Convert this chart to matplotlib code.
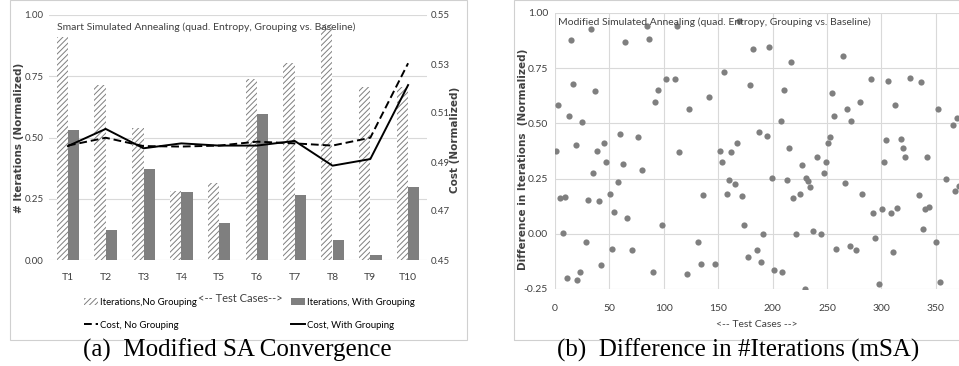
import matplotlib
matplotlib.use("Agg")
import matplotlib.pyplot as plt
from matplotlib.patches import Patch, Rectangle
from matplotlib.lines import Line2D
import numpy as np

narrow = ['Lato', 'DejaVu Sans']
grey = '#7f7f7f'
gridc = '#d9d9d9'
txtc = '#404040'
plt.rcParams['hatch.linewidth'] = 0.7

# ---- (a) data ----
cases = ['T1', 'T2', 'T3', 'T4', 'T5', 'T6', 'T7', 'T8', 'T9', 'T10']
iter_no_group = [0.91, 0.713, 0.537, 0.28, 0.314, 0.738, 0.803, 0.965, 0.705, 0.705]
iter_group = [0.529, 0.123, 0.373, 0.277, 0.150, 0.594, 0.265, 0.082, 0.019, 0.298]
cost_no_group = [0.4967, 0.4999, 0.4965, 0.4963, 0.4967, 0.4983, 0.4976, 0.4967, 0.4999, 0.5303]
cost_group = [0.4965, 0.5035, 0.4956, 0.4976, 0.4967, 0.4967, 0.4986, 0.4885, 0.4912, 0.5214]

# ---- (b) data ----
test_x = [0.9, 3, 13, 14.7, 17, 19, 24.8, 33, 35, 36.8, 38.6, 44.7, 46.9, 60, 58.2,
          62.5, 64.4, 76.6, 80.3, 84.3, 86.4, 92.3, 94.4, 101.8, 110.3, 111.9, 114,
          123.5, 141.9, 151.4, 153.5, 155.7, 159.7, 161.8, 167.3, 169.5, 179.6, 181.8,
          187.3, 195.2, 197.1, 199.2, 207.5, 210.9, 213.3, 215.2, 217, 227.1, 230.8,
          240.9, 247, 248.9, 251, 252.6, 254.4, 256.5, 264.8, 268.8, 272.2, 280.4,
          290.9, 302.5, 304.3, 306.5, 312.3, 317.8, 320, 322.1, 326.4, 336.5, 342,
          352.2, 359.8, 365.6, 369.6,
          4.9, 9.2, 7, 11, 20.5, 22.7, 28.8, 30.6, 40.5, 42.6, 50.6, 52.7, 54.6, 66.2,
          70.5, 90.1, 98.4, 121.7, 131.8, 133.9, 135.8, 147.4, 157.8, 165.5, 171.6,
          173.5, 177.5, 185.4, 189.4, 191.3, 201.4, 209, 219.1, 221.3, 225.3, 233,
          234.8, 229.6, 237, 244.9, 258.7, 266.6, 270.9, 276.5, 282.6, 292.7, 294.5,
          298.2, 300.4, 308.6, 310.5, 314.5, 334.4, 338.1, 339.9, 343.9, 350, 354.3,
          367.8, 371.5]
diff_iter = [0.377, 0.582, 0.533, 0.876, 0.680, 0.403, 0.508, 0.929, 0.277, 0.647,
             0.374, 0.409, 0.324, 0.453, 0.235, 0.315, 0.870, 0.438, 0.291, 0.939,
             0.883, 0.595, 0.652, 0.702, 0.702, 0.942, 0.371, 0.564, 0.618, 0.377,
             0.323, 0.732, 0.242, 0.371, 0.409, 0.962, 0.673, 0.835, 0.459, 0.445,
             0.848, 0.253, 0.509, 0.652, 0.242, 0.389, 0.777, 0.312, 0.253, 0.350,
             0.277, 0.326, 0.412, 0.438, 0.638, 0.533, 0.803, 0.567, 0.512, 0.595,
             0.702, 0.326, 0.424, 0.692, 0.585, 0.429, 0.389, 0.350, 0.705, 0.689,
             0.347, 0.567, 0.250, 0.491, 0.526,
             0.164, 0.167, 0.005, -0.198, -0.211, -0.174, -0.036, 0.153, 0.148, -0.142,
             0.180, -0.071, 0.097, 0.071, -0.074, -0.173, 0.042, -0.183, -0.039, -0.138,
             0.174, -0.135, 0.180, 0.224, 0.171, 0.042, -0.106, -0.074, -0.126, 0.0,
             -0.165, -0.173, 0.164, -0.003, 0.180, 0.238, 0.214, -0.25, 0.014, 0.0,
             -0.071, 0.232, -0.055, -0.074, 0.180, 0.094, -0.018, -0.226, 0.111, 0.094,
             -0.082, 0.117, 0.177, 0.020, 0.114, 0.121, -0.039, -0.217, 0.192, 0.218]

W, H = 959, 366
fig = plt.figure(figsize=(W / 100, H / 100), dpi=100)


def box(l, t, r, b):
    return [l / W, 1 - b / H, (r - l) / W, (b - t) / H]


# chart borders
fig.patches.append(Rectangle((10 / W, 1 - 340 / H), 457 / W, 340 / H, transform=fig.transFigure,
                             fill=False, edgecolor='#d0d0d0', lw=0.8))
fig.patches.append(Rectangle((514 / W, 1 - 340 / H), 450 / W, 340 / H, transform=fig.transFigure,
                             fill=False, edgecolor='#d0d0d0', lw=0.8))

# ---------------- (a) ----------------
ax = fig.add_axes(box(49, 15, 427, 260))
x = np.arange(len(cases))
ax.bar(x - 0.15, iter_no_group, 0.3, color='white', edgecolor=grey, hatch='//////', lw=0)
ax.bar(x + 0.15, iter_group, 0.3, color=grey, lw=0)
ax.set_ylim(0, 1)
ax.set_xlim(-0.5, len(cases) - 0.5)
ax.set_yticks([0, 0.25, 0.5, 0.75, 1.0])
ax.set_yticklabels(['0.00', '0.25', '0.50', '0.75', '1.00'])
ax.set_xticks(x)
ax.set_xticklabels(cases)
ax.grid(axis='y', color=gridc, lw=0.8)
ax.set_axisbelow(True)
for s in ax.spines.values():
    s.set_visible(False)
ax.tick_params(length=0, labelsize=7.5, colors=txtc)
ax.tick_params(axis='x', pad=9)
ax.tick_params(axis='y', pad=4, labelsize=7)
for lab in ax.get_xticklabels() + ax.get_yticklabels():
    lab.set_family(narrow)
ax.set_ylabel('# Iterations (Normalized)', fontsize=7.5, fontweight='bold', color=txtc)
ax.yaxis.set_label_coords(-0.066, 0.5)
ax.text(0.02, 0.97, 'Smart Simulated Annealing (quad. Entropy, Grouping vs. Baseline)',
        transform=ax.transAxes, va='top', ha='left', fontsize=7.5, family=narrow, color=txtc)

ax2 = ax.twinx()
ax2.plot(x, cost_no_group, color='black', lw=1.4, ls=(0, (4, 2)))
ax2.plot(x, cost_group, color='black', lw=1.4)
ax2.set_ylim(0.45, 0.55)
ax2.set_yticks([0.45, 0.47, 0.49, 0.51, 0.53, 0.55])
ax2.set_yticklabels(['0.45', '0.47', '0.49', '0.51', '0.53', '0.55'])
for s in ax2.spines.values():
    s.set_visible(False)
ax2.tick_params(length=0, labelsize=7, colors=txtc, pad=3)
for lab in ax2.get_yticklabels():
    lab.set_family(narrow)
ax2.set_ylabel('Cost (Normalized)', fontsize=7.5, fontweight='bold', color=txtc)
ax2.yaxis.set_label_coords(1.062, 0.49)

leg_a = fig.legend([Patch(facecolor='white', edgecolor=grey, hatch='//////', lw=0),
                    Line2D([], [], color='black', lw=1.4, ls=(0, (4, 2)))],
                   ['Iterations,No Grouping', 'Cost, No Grouping'],
                   loc='upper left', bbox_to_anchor=(79 / W, 1 - 293 / H),
                   frameon=False, prop={'family': narrow, 'size': 6.9}, handlelength=1.5,
                   handletextpad=0.15, labelspacing=1.45, borderpad=0)
fig.legend([Patch(facecolor=grey, lw=0), Line2D([], [], color='black', lw=1.4)],
           ['Iterations, With Grouping', 'Cost, With Grouping'],
           loc='upper left', bbox_to_anchor=(286 / W, 1 - 293 / H),
           frameon=False, prop={'family': narrow, 'size': 6.9}, handlelength=1.5,
           handletextpad=0.15, labelspacing=1.45, borderpad=0)
fig.text(240 / W, 1 - 299 / H, '<-- Test Cases-->', ha='center', va='center', fontsize=8,
         family=narrow, color=txtc)

# ---------------- (b) ----------------
bx = fig.add_axes(box(555, 13, 959, 289))
bx.scatter(test_x, diff_iter, s=20, color=grey, lw=0)
bx.set_xlim(0, 371.4)
bx.set_ylim(-0.25, 1.0)
bx.set_xticks([0, 50, 100, 150, 200, 250, 300, 350])
bx.set_yticks([-0.25, 0, 0.25, 0.5, 0.75, 1.0])
bx.set_yticklabels(['-0.25', '0.00', '0.25', '0.50', '0.75', '1.00'])
bx.grid(True, color=gridc, lw=0.8)
bx.set_axisbelow(True)
for s in bx.spines.values():
    s.set_visible(False)
bx.tick_params(length=0, labelsize=7.5, colors=txtc)
bx.tick_params(axis='x', pad=11)
bx.tick_params(axis='y', pad=5)
for lab in bx.get_xticklabels() + bx.get_yticklabels():
    lab.set_family(narrow)
bx.set_xlabel('<-- Test Cases -->', fontsize=7.5, family=narrow, color=txtc, labelpad=5)
bx.set_ylabel('Difference in Iterations  (Normalized)', fontsize=7.5, fontweight='bold',
              color=txtc)
bx.yaxis.set_label_coords(-0.068, 0.47)
bx.text(0.008, 0.985, 'Modified Simulated Annealing (quad. Entropy, Grouping vs. Baseline)',
        transform=bx.transAxes, va='top', ha='left', fontsize=7.5, family=narrow, color=txtc)

# captions
fig.text(237 / W, 1 - 350 / H, '(a)  Modified SA Convergence', ha='center', va='center',
         fontsize=18, family='Liberation Serif')
fig.text(738 / W, 1 - 350 / H, '(b)  Difference in #Iterations (mSA)', ha='center', va='center',
         fontsize=18, family='Liberation Serif')

fig.savefig('out.png', dpi=100)
